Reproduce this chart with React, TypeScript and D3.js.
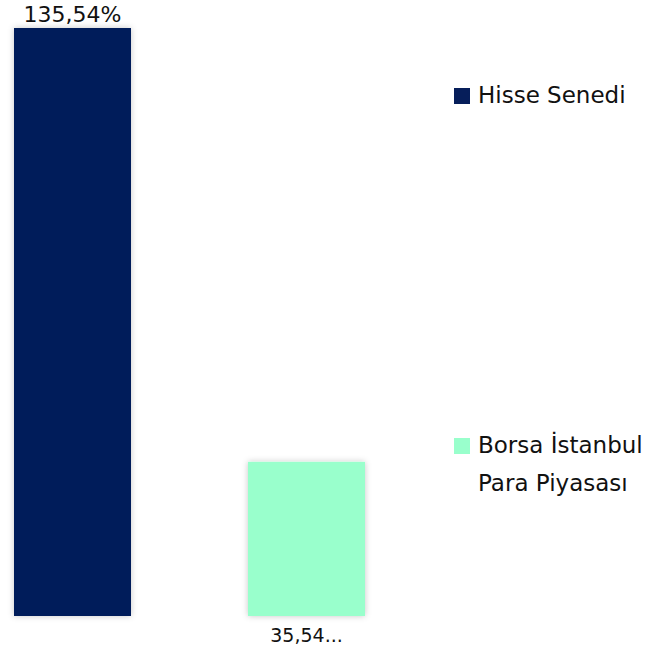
import React from "react";
import * as d3 from "d3";

const categories = ["Hisse Senedi", "Borsa İstanbul Para Piyasası"];
const values = [135.54, 35.54];
const valueLabels = ["135,54%", "35,54..."];
const legendLines = [["Hisse Senedi"], ["Borsa İstanbul", "Para Piyasası"]];
const colors = ["#061E5A", "#99FFCC"];

const W = 653;
const H = 650;
const FONT = "'DejaVu Sans', sans-serif";

export default function App() {
  const x = d3.scaleBand<string>().domain(categories).range([14, 365]).paddingInner(0.5).paddingOuter(0);
  const y = d3.scaleLinear().domain([0, 135.54]).range([616, 28]);
  const legendBase = [103, 453];

  return (
    <svg width={W} height={H} style={{ position: "absolute", left: 0, top: 0, background: "#fff" }} fontFamily={FONT}>
      <defs>
        <filter id="sh" x="-20%" y="-20%" width="140%" height="140%">
          <feDropShadow dx="0" dy="0" stdDeviation="3" floodColor="#000" floodOpacity="0.22" />
        </filter>
      </defs>
      {categories.map((c, i) => {
        const bx = x(c)!;
        const bw = x.bandwidth();
        const top = y(values[i]);
        return (
          <g key={c}>
            <rect x={bx} y={top} width={bw} height={y(0) - top} fill={colors[i]} filter="url(#sh)" />
            {i === 0 ? (
              <text x={bx + bw / 2} y={top - 6} textAnchor="middle" fontSize={22} fill="#111">
                {valueLabels[i]}
              </text>
            ) : (
              <text x={bx + bw / 2} y={y(0) + 26} textAnchor="middle" fontSize={19} fill="#111">
                {valueLabels[i]}
              </text>
            )}
          </g>
        );
      })}
      {categories.map((c, i) => (
        <g key={"lg" + c}>
          <rect x={454} y={legendBase[i] - 15} width={16} height={16} fill={colors[i]} />
          {legendLines[i].map((line, j) => (
            <text key={j} x={478} y={legendBase[i] + j * 37.5} fontSize={23} fill="#111">
              {line}
            </text>
          ))}
        </g>
      ))}
    </svg>
  );
}
